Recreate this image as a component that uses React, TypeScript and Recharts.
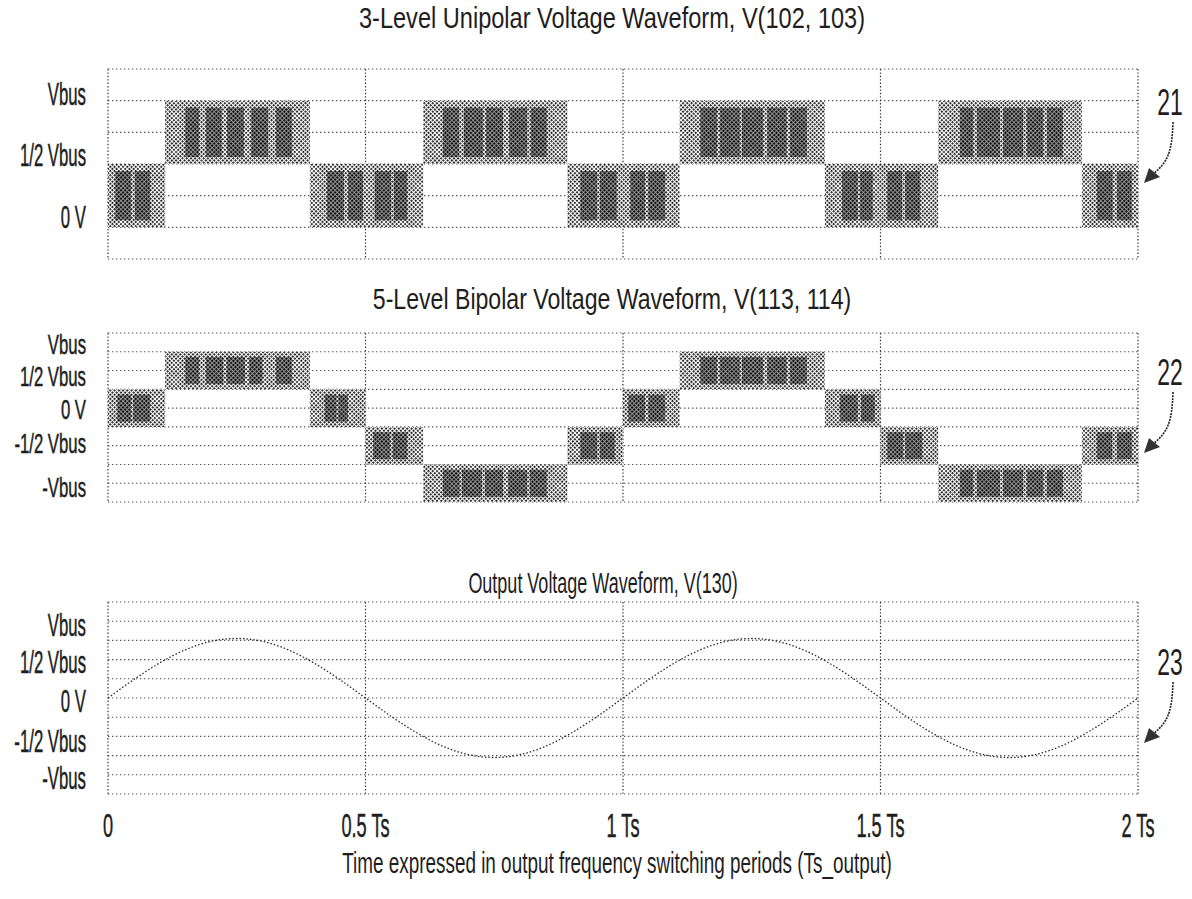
import React from 'react';
import { ComposedChart, XAxis, YAxis, CartesianGrid, ReferenceArea, Line } from 'recharts';

// ---------- shared axis data ----------
const TIME_TICKS = [0, 0.5, 1, 1.5, 2];
const TIME_TICK_LABELS = ['0', '0.5 Ts', '1 Ts', '1.5 Ts', '2 Ts'];

// ---------- panel 1 : 3-level unipolar ----------
const P1_GRID = [0, 1, 2, 3, 4, 5, 6];
const P1_LABEL_POS = [5.2, 3.3, 1.33];
const P1_LABELS = ['Vbus', '1/2 Vbus', '0 V'];
const P1_UPPER_LEVEL = [3, 5];
const P1_LOWER_LEVEL = [1, 3];
const P1_UPPER_BLOCKS = [[0.111, 0.392], [0.612, 0.892], [1.11, 1.392], [1.612, 1.891]];
const P1_LOWER_BLOCKS = [[0, 0.111], [0.392, 0.612], [0.892, 1.11], [1.392, 1.612], [1.891, 2]];
const P1_UPPER_PULSES = [
  [0.15, 0.177], [0.19, 0.221], [0.231, 0.264], [0.278, 0.311], [0.326, 0.357],
  [0.65, 0.682], [0.691, 0.728], [0.734, 0.767], [0.779, 0.814], [0.821, 0.852],
  [1.15, 1.183], [1.188, 1.227], [1.231, 1.272], [1.28, 1.318], [1.324, 1.357],
  [1.654, 1.68], [1.687, 1.732], [1.738, 1.777], [1.784, 1.816], [1.823, 1.854],
];
const P1_LOWER_PULSES = [
  [0.014, 0.045], [0.052, 0.082],
  [0.425, 0.458], [0.466, 0.495], [0.518, 0.55], [0.555, 0.581],
  [0.917, 0.95], [0.955, 0.988], [1.014, 1.043], [1.049, 1.082],
  [1.425, 1.456], [1.46, 1.485], [1.513, 1.542], [1.548, 1.577],
  [1.92, 1.951], [1.959, 1.988],
];

// ---------- panel 2 : 5-level bipolar ----------
const P2_GRID = [0, 1, 2, 3, 4, 5, 6, 7, 8, 9];
const P2_LABEL_POS = [8.41, 6.71, 4.95, 3.14, 0.8];
const P2_LABELS = ['Vbus', '1/2 Vbus', '0 V', '-1/2 Vbus', '-Vbus'];
const P2_TOP_LEVEL = [6, 8];
const P2_ZERO_LEVEL = [4, 6];
const P2_NEGH_LEVEL = [2, 4];
const P2_NEG_LEVEL = [0, 2];
const P2_TOP_BLOCKS = [[0.111, 0.392], [1.11, 1.392]];
const P2_ZERO_BLOCKS = [[0, 0.111], [0.392, 0.5], [1.0, 1.11], [1.392, 1.5]];
const P2_NEGH_BLOCKS = [[0.5, 0.612], [0.892, 1.0], [1.5, 1.612], [1.891, 2]];
const P2_NEG_BLOCKS = [[0.612, 0.892], [1.612, 1.891]];
const P2_TOP_PULSES = [
  [0.15, 0.177], [0.19, 0.224], [0.23, 0.266], [0.274, 0.3], [0.326, 0.357],
  [1.15, 1.183], [1.188, 1.227], [1.231, 1.272], [1.28, 1.318], [1.324, 1.357],
];
const P2_ZERO_PULSES = [
  [0.018, 0.045], [0.049, 0.082], [0.421, 0.444], [0.447, 0.466],
  [1.01, 1.043], [1.049, 1.082], [1.421, 1.456], [1.462, 1.489],
];
const P2_NEGH_PULSES = [
  [0.515, 0.548], [0.553, 0.581], [0.917, 0.95], [0.955, 0.984],
  [1.513, 1.544], [1.548, 1.581], [1.92, 1.95], [1.959, 1.988],
];
const P2_NEG_PULSES = [
  [0.65, 0.683], [0.687, 0.726], [0.732, 0.767], [0.777, 0.814], [0.819, 0.852],
  [1.654, 1.68], [1.687, 1.732], [1.738, 1.777], [1.784, 1.816], [1.823, 1.854],
];

// ---------- panel 3 : output sine ----------
const P3_GRID = [0, 1, 2, 3, 4, 5, 6, 7, 8, 9, 10];
const P3_LABEL_POS = [8.8, 6.88, 4.85, 2.78, 0.82];
const P3_LABELS = ['Vbus', '1/2 Vbus', '0 V', '-1/2 Vbus', '-Vbus'];
const OUT_T = [
  0, 0.05, 0.1, 0.15, 0.2, 0.25, 0.3, 0.35, 0.4, 0.45,
  0.5, 0.55, 0.6, 0.65, 0.7, 0.75, 0.8, 0.85, 0.9, 0.95,
  1.0, 1.05, 1.1, 1.15, 1.2, 1.25, 1.3, 1.35, 1.4, 1.45,
  1.5, 1.55, 1.6, 1.65, 1.7, 1.75, 1.8, 1.85, 1.9, 1.95, 2.0,
];
const OUT_V = [
  5.0, 5.96, 6.82, 7.51, 7.95, 8.1, 7.95, 7.51, 6.82, 5.96,
  5.0, 4.04, 3.18, 2.49, 2.05, 1.9, 2.05, 2.49, 3.18, 4.04,
  5.0, 5.96, 6.82, 7.51, 7.95, 8.1, 7.95, 7.51, 6.82, 5.96,
  5.0, 4.04, 3.18, 2.49, 2.05, 1.9, 2.05, 2.49, 3.18, 4.04, 5.0,
];

// ---------- text ----------
const TITLES = [
  '3-Level Unipolar Voltage Waveform, V(102, 103)',
  '5-Level Bipolar Voltage Waveform, V(113, 114)',
  'Output Voltage Waveform, V(130)',
];
const X_TITLE = 'Time expressed in output frequency switching periods (Ts_output)';
const CALLOUTS = ['21', '22', '23'];

const FONT = '"Liberation Sans", Arial, Helvetica, sans-serif';
const INK = '#1e1e1e';

function makeYTick(labels: string[], positions: number[], fontSize: number, sx: number) {
  return (props: any) => {
    const { x, y, payload } = props;
    const i = positions.indexOf(payload.value);
    const txt = i >= 0 ? labels[i] : '';
    return (
      <g transform={`translate(${x},${y})`}>
        <text transform={`scale(${sx},1)`} textAnchor="end" dy="0.36em" fontSize={fontSize} fill={INK} stroke={INK} strokeWidth={0.5} fontFamily={FONT}>
          {txt}
        </text>
      </g>
    );
  };
}

const EmptyTick = () => <g />;

function XTick(props: any) {
  const { x, y, payload } = props;
  const i = TIME_TICKS.indexOf(payload.value);
  return (
    <g transform={`translate(${x},${y + 31})`}>
      <text transform="scale(0.55,1)" textAnchor="middle" dy="0.36em" fontSize={33} fill={INK} stroke={INK} strokeWidth={0.5} fontFamily={FONT}>
        {i >= 0 ? TIME_TICK_LABELS[i] : ''}
      </text>
    </g>
  );
}

function Patterns({ id }: { id: string }) {
  return (
    <defs>
      <pattern id={`${id}-l`} width="3" height="3" patternUnits="userSpaceOnUse" patternTransform="rotate(45)">
        <rect width="3" height="3" fill="#ffffff" />
        <rect width="1.9" height="1.9" fill="#1a1a1a" />
      </pattern>
      <pattern id={`${id}-d`} width="3" height="3" patternUnits="userSpaceOnUse" patternTransform="rotate(45)">
        <rect width="3" height="3" fill="#9a9a9a" />
        <rect width="2.1" height="2.1" fill="#111111" />
      </pattern>
    </defs>
  );
}

function band(key: string, pid: string, level: number[], blocks: number[][], pulses: number[][], inset: number) {
  const [lo, hi] = level;
  return [
    ...blocks.map(([a, b], i) => (
      <ReferenceArea key={`${key}b${i}`} xAxisId="x" yAxisId="g" x1={a} x2={b} y1={lo} y2={hi} fill={`url(#${pid}-l)`} fillOpacity={1} stroke="none" ifOverflow="visible" />
    )),
    ...pulses.map(([a, b], i) => (
      <ReferenceArea key={`${key}p${i}`} xAxisId="x" yAxisId="g" x1={a} x2={b} y1={lo + inset} y2={hi - inset} fill={`url(#${pid}-d)`} fillOpacity={1} stroke="none" ifOverflow="visible" />
    )),
  ];
}

function Axes({ grid, labelPos, labels, domainMax, showX, fontSize, sx }: { grid: number[]; labelPos: number[]; labels: string[]; domainMax: number; showX?: boolean; fontSize: number; sx: number }) {
  return (
    <>
      <CartesianGrid xAxisId="x" yAxisId="g" horizontal={true} vertical={false} stroke="#555" strokeDasharray="1.4 2.6" strokeWidth={1.1} />
      <CartesianGrid xAxisId="x" yAxisId="g" horizontal={false} vertical={true} stroke="#333" strokeDasharray="1.4 2" strokeWidth={1.2} />
      {showX ? (
        <XAxis xAxisId="x" dataKey="t" type="number" domain={[0, 2]} ticks={TIME_TICKS} allowDataOverflow height={50} tickSize={0} tickMargin={0} axisLine={false} tickLine={false} tick={XTick} interval={0} />
      ) : (
        <XAxis xAxisId="x" dataKey="t" type="number" domain={[0, 2]} ticks={TIME_TICKS} allowDataOverflow height={0} tickSize={0} tick={EmptyTick} axisLine={false} tickLine={false} interval={0} />
      )}
      <YAxis yAxisId="l" type="number" domain={[0, domainMax]} ticks={labelPos} allowDataOverflow width={108} tickSize={0} tickMargin={22} axisLine={false} tickLine={false} tick={makeYTick(labels, labelPos, fontSize, sx)} interval={0} />
      <YAxis yAxisId="g" type="number" domain={[0, domainMax]} ticks={grid} allowDataOverflow width={0} tickSize={0} tick={EmptyTick} axisLine={false} tickLine={false} interval={0} />
    </>
  );
}

const absStyle = (top: number): React.CSSProperties => ({ position: 'absolute', left: 0, top });

export default function App() {
  const outData = OUT_T.map((t, i) => ({ t, v: OUT_V[i] }));
  const tickData = TIME_TICKS.map((t) => ({ t }));
  return (
    <div style={{ position: 'absolute', left: 0, top: 0, width: 1192, height: 899, background: '#fff', overflow: 'hidden' }}>
      {/* panel 1 */}
      <div style={absStyle(0)}>
        <ComposedChart width={1192} height={280} data={tickData} margin={{ top: 69, right: 54, bottom: 21, left: 0 }}>
          <Patterns id="p1" />
          {Axes({ grid: P1_GRID, labelPos: P1_LABEL_POS, labels: P1_LABELS, domainMax: 6, fontSize: 31, sx: 0.54 })}
          {band('u', 'p1', P1_UPPER_LEVEL, P1_UPPER_BLOCKS, P1_UPPER_PULSES, 0.22)}
          {band('l', 'p1', P1_LOWER_LEVEL, P1_LOWER_BLOCKS, P1_LOWER_PULSES, 0.22)}
        </ComposedChart>
      </div>
      {/* panel 2 */}
      <div style={absStyle(300)}>
        <ComposedChart width={1192} height={220} data={tickData} margin={{ top: 33, right: 54, bottom: 18, left: 0 }}>
          <Patterns id="p2" />
          {Axes({ grid: P2_GRID, labelPos: P2_LABEL_POS, labels: P2_LABELS, domainMax: 9, fontSize: 27, sx: 0.62 })}
          {band('a', 'p2', P2_TOP_LEVEL, P2_TOP_BLOCKS, P2_TOP_PULSES, 0.28)}
          {band('b', 'p2', P2_ZERO_LEVEL, P2_ZERO_BLOCKS, P2_ZERO_PULSES, 0.28)}
          {band('c', 'p2', P2_NEGH_LEVEL, P2_NEGH_BLOCKS, P2_NEGH_PULSES, 0.28)}
          {band('d', 'p2', P2_NEG_LEVEL, P2_NEG_BLOCKS, P2_NEG_PULSES, 0.28)}
        </ComposedChart>
      </div>
      {/* panel 3 */}
      <div style={absStyle(560)}>
        <ComposedChart width={1192} height={339} data={outData} margin={{ top: 42, right: 54, bottom: 55, left: 0 }}>
          {Axes({ grid: P3_GRID, labelPos: P3_LABEL_POS, labels: P3_LABELS, domainMax: 10, showX: true, fontSize: 31, sx: 0.54 })}
          <Line xAxisId="x" yAxisId="g" dataKey="v" type="monotone" stroke="#2a2a2a" strokeWidth={1.3} strokeDasharray="1.5 2" dot={false} activeDot={false} isAnimationActive={false} />
        </ComposedChart>
      </div>
      {/* titles and callouts */}
      <svg width={1192} height={899} style={{ position: 'absolute', left: 0, top: 0, pointerEvents: 'none' }}>
        <g fontFamily={FONT} fill={INK}>
          <text transform="translate(612,17) scale(0.786,1)" dy="0.36em" fontSize={30} textAnchor="middle">{TITLES[0]}</text>
          <text transform="translate(612,298) scale(0.77,1)" dy="0.36em" fontSize={30} textAnchor="middle">{TITLES[1]}</text>
          <text transform="translate(603,582) scale(0.6,1)" dy="0.36em" fontSize={30} textAnchor="middle">{TITLES[2]}</text>
          <text transform="translate(617,862) scale(0.63,1)" dy="0.36em" fontSize={30} textAnchor="middle">{X_TITLE}</text>
          {[102, 372, 662].map((cy, i) => (
            <g key={i}>
              <text transform={`translate(1170,${cy}) scale(0.62,1)`} dy="0.36em" fontSize={37} textAnchor="middle">{CALLOUTS[i]}</text>
              <path d={`M1173,${cy + 20} C1172,${cy + 50} 1168,${cy + 60} 1153,${cy + 72}`} fill="none" stroke="#222" strokeWidth={1.6} strokeDasharray="2 1" />
              <polygon points={`1144,${cy + 81} 1149,${cy + 66} 1160,${cy + 75}`} fill="#333" />
            </g>
          ))}
        </g>
      </svg>
    </div>
  );
}
